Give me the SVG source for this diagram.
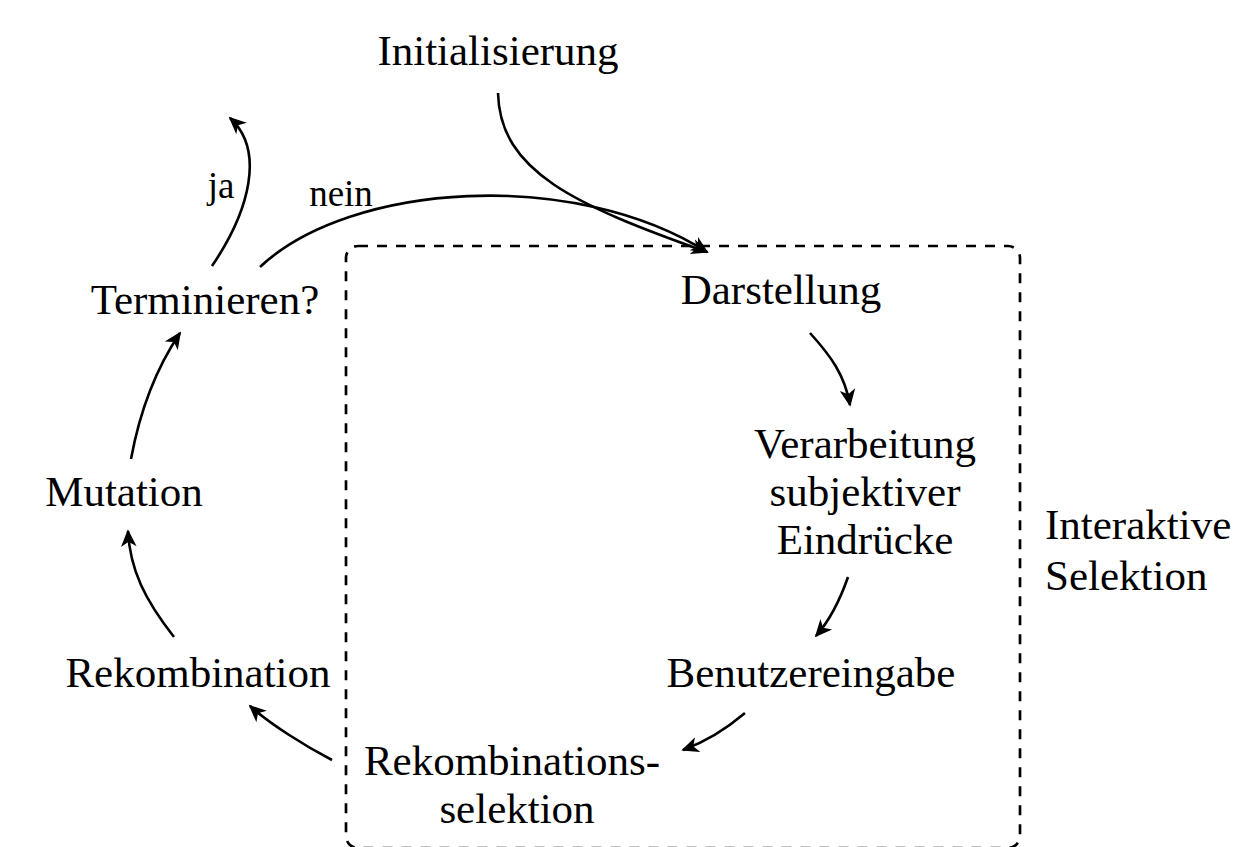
<svg xmlns="http://www.w3.org/2000/svg" width="1239" height="847" viewBox="0 0 1239 847">
<style>
text{font-family:"Liberation Serif","Times New Roman",serif;font-size:43px;fill:#000;text-anchor:middle}
text.s{font-size:37px}
text.l{text-anchor:start}
.c{fill:none;stroke:#000;stroke-width:2.6;marker-end:url(#ah)}
.box{fill:none;stroke:#000;stroke-width:2.7;stroke-dasharray:10 9}
</style>
<defs>
<marker id="ah" markerUnits="userSpaceOnUse" markerWidth="24" markerHeight="24" viewBox="-16 -10 20 20" refX="0" refY="0" orient="auto">
<path d="M1.5,0 L-13,-6.5 L-9,0 L-13,6.5 Z" fill="#000"/>
</marker>
</defs>
<g id="selection-box"><rect class="box" x="346" y="246" width="674" height="602" rx="12" ry="12"/></g>
<g id="connectors">
<path class="c" d="M498,93 C500,172 575,205 707,252"/>
<path class="c" d="M260,267 C350,182 575,168 707,252"/>
<path class="c" d="M212,266 C250,210 265,150 230,118"/>
<path class="c" d="M810,333 C830,355 845,375 850,405"/>
<path class="c" d="M848,577 C840,600 830,620 816,636"/>
<path class="c" d="M745,713 C725,730 705,742 683,750"/>
<path class="c" d="M332,760 C305,746 270,724 250,706"/>
<path class="c" d="M174,637 C145,600 130,570 128,531"/>
<path class="c" d="M131,459 C140,410 155,370 180,333"/>
</g>
<g id="initialisierung"><text x="498" y="65">Initialisierung</text></g>
<g id="terminieren"><text x="205" y="314">Terminieren?</text></g>
<g id="darstellung"><text x="781" y="304">Darstellung</text></g>
<g id="verarbeitung"><text x="865" y="458">Verarbeitung</text><text x="865" y="506">subjektiver</text><text x="865" y="554">Eindrücke</text></g>
<g id="interaktive-selektion"><text class="l" x="1045" y="539">Interaktive</text><text class="l" x="1045" y="590">Selektion</text></g>
<g id="benutzereingabe"><text x="811" y="687">Benutzereingabe</text></g>
<g id="rekombinationsselektion"><text x="512" y="775">Rekombinations-</text><text x="517" y="823">selektion</text></g>
<g id="rekombination"><text x="198" y="687">Rekombination</text></g>
<g id="mutation"><text x="124" y="506">Mutation</text></g>
<g id="labels"><text class="s" x="221" y="198">ja</text><text class="s" x="341" y="206">nein</text></g>
</svg>
